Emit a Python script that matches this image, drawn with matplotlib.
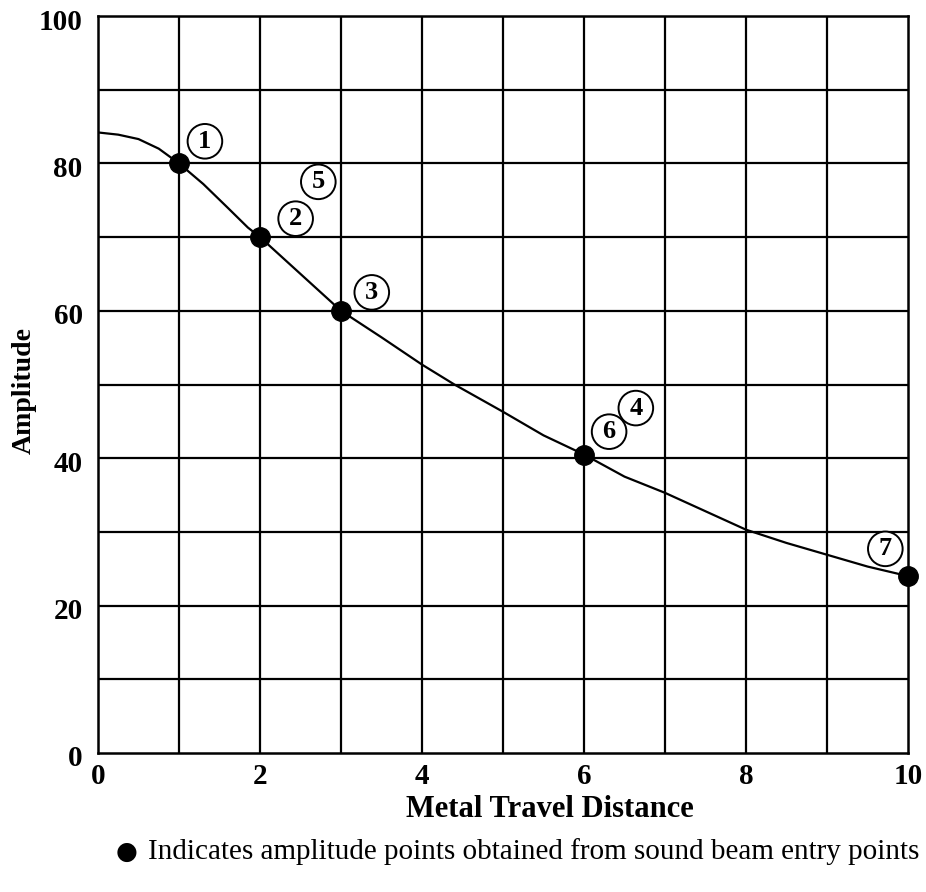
import matplotlib
matplotlib.use('Agg')
import matplotlib.pyplot as plt
import matplotlib.transforms as mtransforms

#%% Data
curve_x = [0, 0.25, 0.5, 0.75, 1, 1.3, 1.6, 1.85, 2, 2.5, 3, 3.5, 4, 4.4, 5, 5.5, 6, 6.5, 7,
           7.5, 8, 8.5, 9, 9.5, 10]
curve_y = [84.2, 83.9, 83.3, 82.0, 80, 77.2, 74.0, 71.3, 70, 65.0, 60, 56.4, 52.7, 50.0, 46.3,
           43.1, 40.5, 37.5, 35.3, 32.8, 30.3, 28.5, 26.9, 25.3, 24.0]
point_x = [1, 2, 3, 6, 10]
point_y = [80, 70, 60, 40.5, 24]
tag_labels = ['1', '5', '2', '3', '4', '6', '7']
tag_x = [1.32, 2.72, 2.44, 3.38, 6.64, 6.31, 9.72]
tag_y = [83.0, 77.5, 72.5, 62.5, 46.8, 43.6, 27.7]
x_ticks = [0, 2, 4, 6, 8, 10]
y_ticks = [0, 20, 40, 60, 80, 100]

#%% Plot features
serif = 'Liberation Serif'

fig = plt.figure(figsize=(9.26, 8.92), dpi=100)
ax = fig.add_axes([98 / 926, 1 - 753 / 892, 810 / 926, 737 / 892])

# grid every 1 in x and 10 in y
for gx in range(1, 10):
    ax.axvline(gx, color='black', lw=1.6, zorder=1)
for gy in range(10, 100, 10):
    ax.axhline(gy, color='black', lw=1.6, zorder=1)

ax.plot(curve_x, curve_y, color='black', lw=1.6, zorder=2)
ax.plot(point_x, point_y, 'o', color='black', ms=14, zorder=3, clip_on=False)

for lab, tx, ty in zip(tag_labels, tag_x, tag_y):
    ax.text(tx, ty, lab, ha='center', va='center', fontsize=19, fontweight='bold', family=serif,
            bbox=dict(boxstyle='circle,pad=0.22', fc='white', ec='black', lw=1.4), zorder=4)

ax.set_xlim(0, 10)
ax.set_ylim(0, 100)
ax.set_xticks(x_ticks)
ax.set_yticks(y_ticks)
ax.tick_params(axis='x', length=0, pad=7)
ax.tick_params(axis='y', length=0, pad=11)
shift = mtransforms.ScaledTranslation(0, -3 / 100, fig.dpi_scale_trans)
for t in ax.get_yticklabels():
    t.set_transform(t.get_transform() + shift)
for t in ax.get_xticklabels() + ax.get_yticklabels():
    t.set_fontsize(21)
    t.set_fontweight('bold')
    t.set_family(serif)
for s in ax.spines.values():
    s.set_linewidth(1.8)

ax.set_xlabel('Metal Travel Distance', fontsize=22, fontweight='bold', family=serif)
ax.xaxis.set_label_coords((550 - 98) / 810, -(795 - 753) / 737)
ax.set_ylabel('Amplitude', fontsize=20, fontweight='bold', family=serif)
ax.yaxis.set_label_coords(-(98 - 37) / 810, (753 - 390) / 737)

fig.text(127 / 926, 1 - 852 / 892, '\u25cf', ha='center', va='center', fontsize=18, family='DejaVu Sans')
fig.text(148 / 926, 1 - 852 / 892, 'Indicates amplitude points obtained from sound beam entry points',
         ha='left', va='center', fontsize=21, family=serif)

plt.savefig('out.png', dpi=100)
plt.close(fig)
